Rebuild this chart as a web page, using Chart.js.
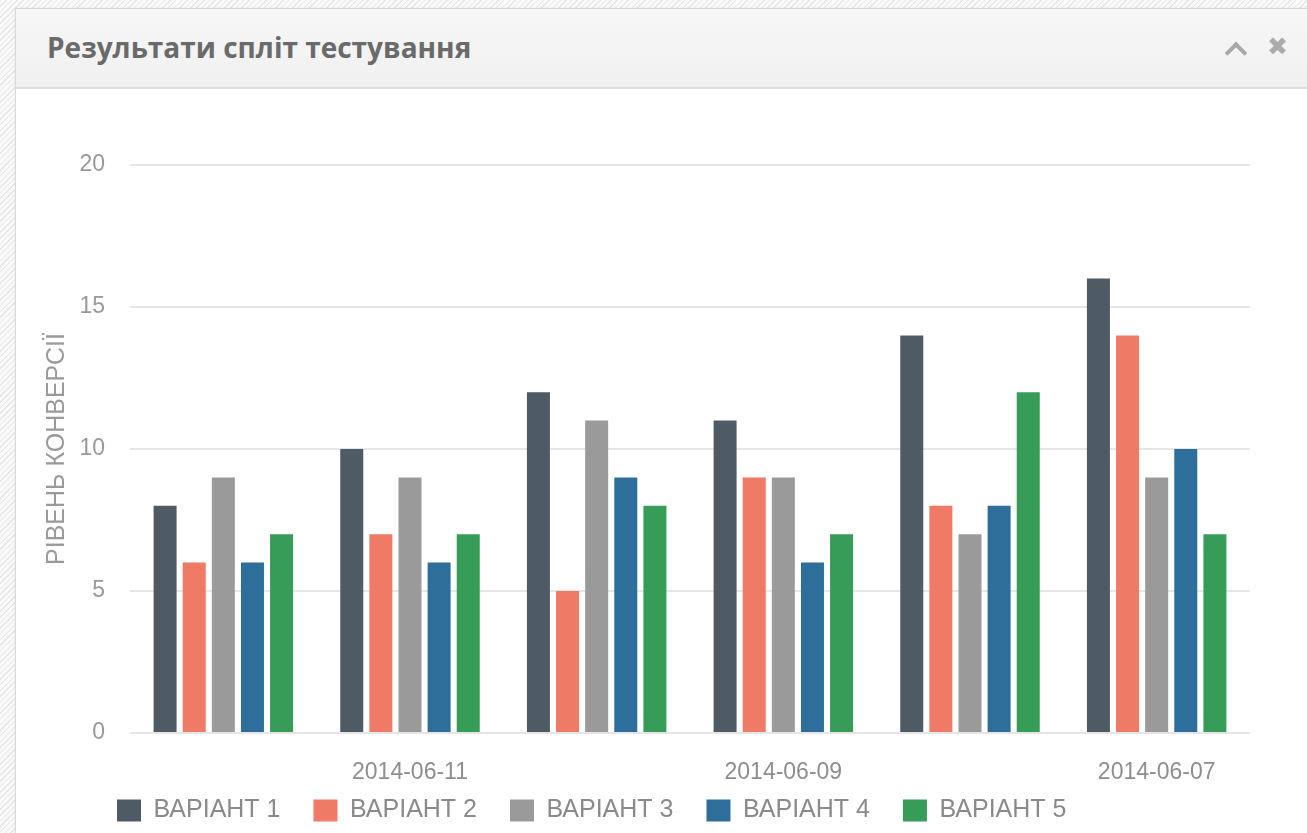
<!DOCTYPE html>
<html>
<head>
<meta charset="utf-8">
<title>Результати спліт тестування</title>
<script src="https://cdn.jsdelivr.net/npm/chart.js@4.4.1/dist/chart.umd.min.js"></script>
<style>
  html, body { margin: 0; padding: 0; }
  body {
    width: 1307px; height: 833px; overflow: hidden; position: relative;
    background: repeating-linear-gradient(135deg, #e6e6e6 0 1px, #f9f9f9 1px 4px);
  }
  .panel {
    position: absolute; left: 15px; top: 8px; width: 1310px; height: 840px;
    background: #fff; border: 1px solid #d9d9d9; box-sizing: border-box;
    box-shadow: 0 0 2px rgba(0,0,0,0.08);
  }
  .panel-head {
    height: 80px; border-bottom: 2px solid #dedede; box-sizing: border-box;
    background: linear-gradient(#f7f7f7, #f0f0f0);
    position: relative;
  }
  .panel-head h3 {
    margin: 0; position: absolute; left: 31px; top: 19px;
    font: bold 28px "Open Sans", sans-serif; color: #6a6a6a;
  }
  .chev {
    position: absolute; left: 1212px; top: 36px; width: 12px; height: 12px;
    border-left: 4px solid #a8a8a8; border-top: 4px solid #a8a8a8;
    transform: rotate(45deg);
  }
  .close {
    position: absolute; left: 1251px; top: 23px;
    font: bold 25px "DejaVu Sans", sans-serif; color: #ababab;
  }
  #wrap { position: absolute; left: 15px; top: 88px; width: 1292px; height: 767px; }
</style>
</head>
<body>
<div class="panel">
  <div class="panel-head">
    <h3>Результати спліт тестування</h3>
    <div class="chev"></div>
    <div class="close">✖</div>
  </div>
</div>
<div id="wrap"><canvas id="chart"></canvas></div>
<script>
// dates, newest first
const dates = ['2014-06-12', '2014-06-11', '2014-06-10', '2014-06-09', '2014-06-08', '2014-06-07'];
const seriesNames = ['ВАРІАНТ 1', 'ВАРІАНТ 2', 'ВАРІАНТ 3', 'ВАРІАНТ 4', 'ВАРІАНТ 5'];
const variant1 = [8, 10, 12, 11, 14, 16];
const variant2 = [6, 7, 5, 9, 8, 14];
const variant3 = [9, 9, 11, 9, 7, 9];
const variant4 = [6, 6, 9, 6, 8, 10];
const variant5 = [7, 7, 8, 7, 12, 7];
const yTicks = [0, 5, 10, 15, 20];
const colors = ['#4e5a64', '#ef7a65', '#9a9a9a', '#2d6e9b', '#389c59'];

const allValues = [variant1, variant2, variant3, variant4, variant5];
const datasets = allValues.map((vals, i) => ({
  label: seriesNames[i],
  data: vals,
  backgroundColor: colors[i],
  borderWidth: 0,
  barPercentage: 0.79,
  categoryPercentage: 0.78,
}));

// legend sits a bit to the right and tucked up under the date labels
const legendShift = {
  id: 'legendShift',
  afterLayout(chart) {
    const lg = chart.legend;
    lg.left += 42;
    lg.right += 42;
    lg.top -= 22;
    lg.bottom -= 22;
  }
};

Chart.defaults.font.family = '"Liberation Sans", Arial, sans-serif';
Chart.defaults.color = '#999';

new Chart(document.getElementById('chart'), {
  type: 'bar',
  data: { labels: dates, datasets: datasets },
  options: {
    responsive: true,
    maintainAspectRatio: false,
    animation: false,
    layout: { padding: { top: 77, right: 57, left: 27, bottom: 0 } },
    plugins: {
      tooltip: { enabled: false },
      legend: {
        position: 'bottom',
        align: 'start',
        labels: {
          boxWidth: 24,
          boxHeight: 22,
          padding: 33,
          color: '#8a8a8a',
          font: { size: 25 },
        },
      },
    },
    scales: {
      x: {
        grid: { display: false, drawTicks: false },
        border: { display: false },
        ticks: {
          autoSkip: false,
          maxRotation: 0,
          padding: 26,
          color: '#8e8e8e',
          font: { size: 23 },
          callback: (v, i) => (i % 2 ? dates[i] : ''),
        },
        afterFit: (s) => { s.height = 54; },
      },
      y: {
        min: yTicks[0],
        max: yTicks[yTicks.length - 1],
        afterBuildTicks: (s) => { s.ticks = yTicks.map(v => ({ value: v })); },
        grid: { color: '#e6e6e6', lineWidth: 2, drawTicks: false },
        border: { display: false },
        ticks: { padding: 25, color: '#999', font: { size: 23 } },
        title: {
          display: true,
          text: 'РІВЕНЬ КОНВЕРСІЇ',
          color: '#9a9a9a',
          font: { size: 25 },
          padding: { top: 0, bottom: 8 },
        },
        afterFit: (s) => { s.width = 88; },
      },
    },
  },
  plugins: [legendShift],
});
</script>
</body>
</html>
